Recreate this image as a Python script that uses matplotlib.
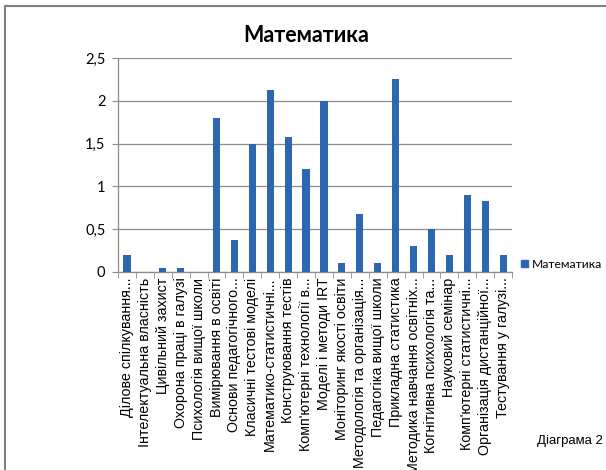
import matplotlib.pyplot as plt
import matplotlib.patches as mpatches
import numpy as np

# --- Дані ---
subjects = [
    "Ділове спілкування...",
    "Інтелектуальна власність",
    "Цивільний захист",
    "Охорона праці в галузі",
    "Психологія вищої школи",
    "Вимірювання в освіті",
    "Основи педагогічного...",
    "Класичні тестові моделі",
    "Математико-статистичні...",
    "Конструювання тестів",
    "Комп'ютерні технології в...",
    "Моделі і методи IRT",
    "Моніторинг якості освіти",
    "Методологія та організація...",
    "Педагогіка вищої школи",
    "Прикладна статистика",
    "Методика навчання освітніх...",
    "Когнітивна психологія та...",
    "Науковий семінар",
    "Комп'ютерні статистичні...",
    "Організація дистанційної...",
    "Тестування у галузі...",
]
math_scores = [0.2, 0, 0.05, 0.05, 0, 1.8, 0.375, 1.5, 2.125, 1.575, 1.2,
               2.0, 0.1, 0.675, 0.1, 2.25, 0.3, 0.5, 0.2, 0.9, 0.825, 0.2]
y_ticks = [0, 0.5, 1, 1.5, 2, 2.5]
y_tick_labels = ["0", "0,5", "1", "1,5", "2", "2,5"]

bar_color = "#2D67B2"
axis_color = "#8C8C8C"

fig = plt.figure(figsize=(6.06, 4.70), dpi=100)
ax = fig.add_axes([0.1947, 0.4213, 0.6503, 0.4553])

x = np.arange(len(subjects))
ax.bar(x, math_scores, width=0.4, color=bar_color, zorder=3, label="Математика")

ax.set_xlim(-0.5, len(subjects) - 0.5)
ax.set_ylim(0, 2.5)
ax.set_yticks(y_ticks)
ax.set_yticklabels(y_tick_labels, fontsize=10.5, family="Lato")
ax.yaxis.grid(True, color=axis_color, linewidth=0.9, zorder=0)

# category labels at centres, tick marks at category borders
ax.set_xticks(x)
ax.set_xticklabels(subjects, rotation=90, fontsize=10.3, family="Liberation Sans")
ax.set_xticks(np.arange(len(subjects) + 1) - 0.5, minor=True)
ax.tick_params(axis="x", which="major", length=0, pad=4)
ax.tick_params(axis="x", which="minor", length=4, color=axis_color)
ax.tick_params(axis="y", length=4, color=axis_color, pad=5)

for side in ["top", "right"]:
    ax.spines[side].set_visible(False)
for side in ["left", "bottom"]:
    ax.spines[side].set_color(axis_color)
    ax.spines[side].set_linewidth(0.9)

fig.text(0.505, 0.925, "Математика", ha="center", va="center",
         fontsize=15.5, fontweight="bold", family="Lato")

handle = mpatches.Patch(color=bar_color, label="Математика")
fig.legend(handles=[handle], loc="center left", bbox_to_anchor=(0.859, 0.438),
           frameon=False, handlelength=0.6, handleheight=0.6,
           handletextpad=0.3, borderpad=0, borderaxespad=0,
           prop={"family": "Lato", "size": 8.7})

fig.text(0.995, 0.062, "Діаграма 2", ha="right", va="center",
         fontsize=9.5, family="Liberation Sans")

# outer frame of the chart area
fig.patches.append(mpatches.Rectangle((5 / 606, -0.05), 1.1, 1.05 - 6 / 470,
                                      transform=fig.transFigure, fill=False,
                                      edgecolor="#7F7F7F", linewidth=1.5))

fig.savefig("out.png", dpi=100)
